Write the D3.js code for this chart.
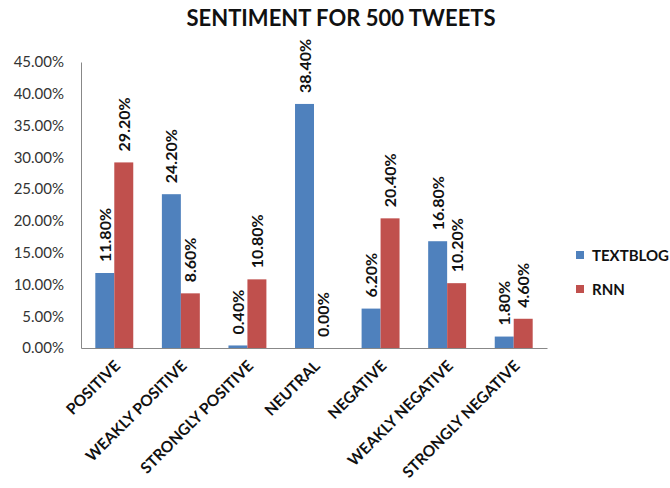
<!DOCTYPE html>
<html><head><meta charset="utf-8">
<script src="https://cdn.jsdelivr.net/npm/d3@7/dist/d3.min.js"></script>
<style>body{margin:0;background:#fff}svg{display:block}</style>
</head><body><svg id="c" width="670" height="488"></svg>
<script>
const categories = ["POSITIVE","WEAKLY POSITIVE","STRONGLY POSITIVE","NEUTRAL","NEGATIVE","WEAKLY NEGATIVE","STRONGLY NEGATIVE"];
const seriesNames = ["TEXTBLOG","RNN"];
const textblog = [11.8,24.2,0.4,38.4,6.2,16.8,1.8];
const rnn = [29.2,8.6,10.8,0.0,20.4,10.2,4.6];
const yTicks = [0,5,10,15,20,25,30,35,40,45];
const colors = ["#4F81BD","#C0504D"];

const svg = d3.select("#c");
const mLeft = 81, mRight = 547, mTop = 62, mBottom = 348;
const font = "Lato, 'Open Sans', sans-serif";

const x = d3.scaleBand().domain(categories).range([mLeft, mRight]).paddingInner(0.43).paddingOuter(0.215);
const xs = d3.scaleBand().domain(seriesNames).range([0, x.bandwidth()]);
const y = d3.scaleLinear().domain([0,45]).range([mBottom, mTop]);

svg.append("text").attr("x",341).attr("y",26).attr("text-anchor","middle")
  .attr("font-family",font).attr("font-weight","bold").attr("font-size",22).attr("fill","#111")
  .text("SENTIMENT FOR 500 TWEETS");

// y axis
const ya = svg.append("g").attr("transform",`translate(${mLeft},0)`)
  .call(d3.axisLeft(y).tickValues(yTicks).tickSize(0).tickPadding(17).tickFormat(d=>d.toFixed(2)+"%"));
ya.select(".domain").attr("stroke","#888");
ya.selectAll("text").attr("font-family",font).attr("font-size",15).attr("fill","#333");

// x axis
const xa = svg.append("g").attr("transform",`translate(0,${mBottom})`)
  .call(d3.axisBottom(x).tickSize(0).tickPadding(0));
xa.select(".domain").attr("stroke","#888");
xa.selectAll("text").attr("font-family",font).attr("font-weight","bold").attr("font-size",15.5).attr("fill","#111")
  .attr("text-anchor","end").attr("dy",0).attr("y",0)
  .attr("transform","translate(7,19) rotate(-45)");

const data = [textblog, rnn];
data.forEach((vals,si)=>{
  const g = svg.append("g");
  g.selectAll("rect").data(vals).join("rect")
    .attr("x",(d,i)=>x(categories[i])+xs(seriesNames[si]))
    .attr("y",d=>y(d)).attr("width",xs.bandwidth()).attr("height",d=>mBottom-y(d))
    .attr("fill",colors[si]);
  g.selectAll("text").data(vals).join("text")
    .attr("transform",(d,i)=>`translate(${x(categories[i])+xs(seriesNames[si])+xs.bandwidth()/2+6},${y(d)-11}) rotate(-90)`)
    .attr("font-family",font).attr("font-weight","bold").attr("font-size",16).attr("fill","#111")
    .text(d=>d.toFixed(2)+"%");
});

// legend
seriesNames.forEach((s,i)=>{
  const ly = 251 + i*34;
  svg.append("rect").attr("x",576).attr("y",ly).attr("width",8).attr("height",8).attr("fill",colors[i]);
  svg.append("text").attr("x",592).attr("y",ly+10).attr("font-family",font).attr("font-weight","bold")
    .attr("font-size",15).attr("fill","#111").text(s);
});
</script></body></html>
